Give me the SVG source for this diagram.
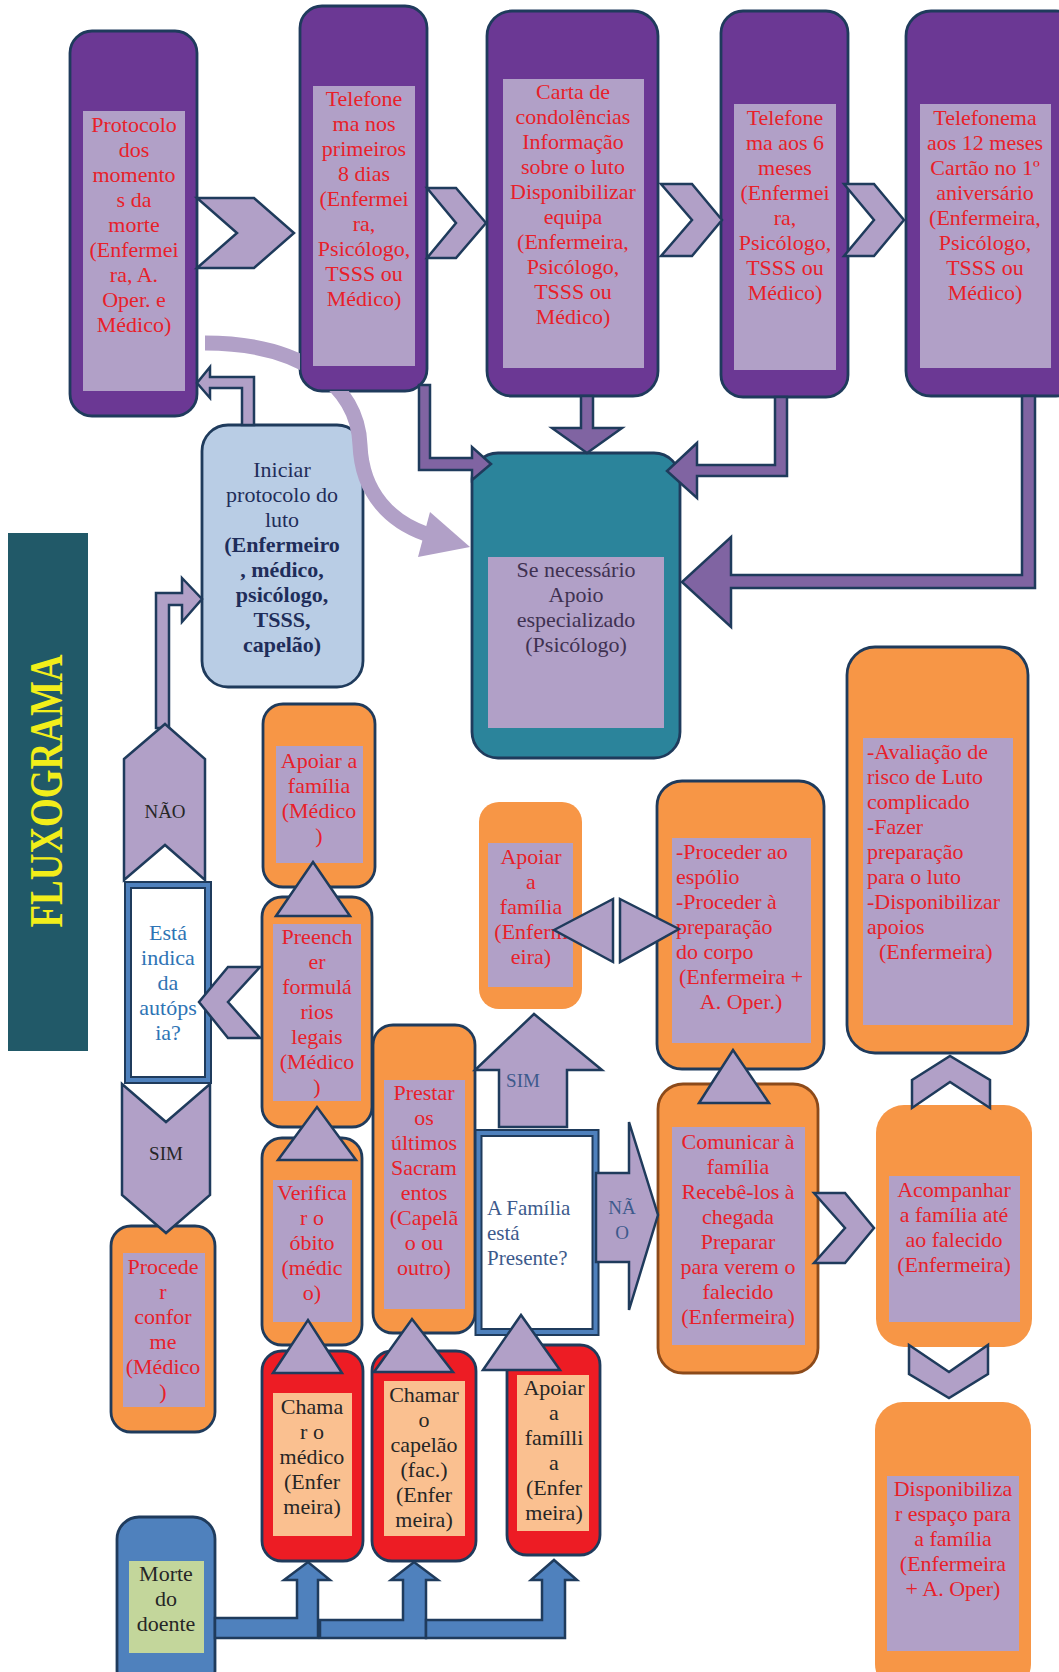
<svg xmlns="http://www.w3.org/2000/svg" width="1059" height="1672" viewBox="0 0 1059 1672">
<style>
.pn{fill:#6b3894;stroke:#1f3b5c;stroke-width:2.8}
.in{fill:#b1a0c7}
.ob{fill:#f79646;stroke:#1f3b5c;stroke-width:2.8}
.on{fill:#f79646}
.rb{fill:#ed1c24;stroke:#1f3b5c;stroke-width:2.8}
.pk{fill:#fac090}
.lav{fill:#b1a0c7;stroke:#1f3b5c;stroke-width:2.5;stroke-linejoin:miter}
.pa{fill:#8064a2;stroke:#1f3b5c;stroke-width:2.5}
.ba{fill:#4f81bd;stroke:#1f3b5c;stroke-width:2.5}
text{font-family:"Liberation Serif","Times New Roman",serif;font-size:22px;text-anchor:middle}
.r{fill:#e8202a}
.d{fill:#262626}
.l{text-anchor:start}
.lbl{font-size:19px}
.ttl{font-size:46px;font-weight:bold;fill:#f2ee1a}
.fam{font-size:21px;fill:#3d5a8c}
</style>
<defs>
<clipPath id="notNode2"><path clip-rule="evenodd" d="M0,0H1059V1672H0Z M300,6H427V391H300Z"/></clipPath>
</defs>

<g id="title">
<rect x="8" y="533" width="80" height="518" fill="#215968"/>
<text class="ttl" transform="translate(62,791) rotate(-90)" textLength="273" lengthAdjust="spacingAndGlyphs">FLUXOGRAMA</text>
</g>

<g id="node-protocolo">
<rect class="pn" x="70" y="31" width="127" height="385" rx="22"/>
<rect class="in" x="83" y="111" width="102" height="280"/>
<text class="r" x="134" y="132">Protocolo<tspan x="134" dy="25">dos</tspan><tspan x="134" dy="25">momento</tspan><tspan x="134" dy="25">s da</tspan><tspan x="134" dy="25">morte</tspan><tspan x="134" dy="25">(Enfermei</tspan><tspan x="134" dy="25">ra, A.</tspan><tspan x="134" dy="25">Oper. e</tspan><tspan x="134" dy="25">Médico)</tspan></text>
</g>

<g id="node-telefonema8">
<rect class="pn" x="300" y="6" width="127" height="385" rx="22"/>
<rect class="in" x="313" y="86" width="102" height="280"/>
<text class="r" x="364" y="106">Telefone<tspan x="364" dy="25">ma nos</tspan><tspan x="364" dy="25">primeiros</tspan><tspan x="364" dy="25">8 dias</tspan><tspan x="364" dy="25">(Enfermei</tspan><tspan x="364" dy="25">ra,</tspan><tspan x="364" dy="25">Psicólogo,</tspan><tspan x="364" dy="25">TSSS ou</tspan><tspan x="364" dy="25">Médico)</tspan></text>
</g>

<g id="node-carta">
<rect class="pn" x="487" y="11" width="171" height="385" rx="25"/>
<rect class="in" x="503" y="79" width="141" height="289"/>
<text class="r" x="573" y="99">Carta de<tspan x="573" dy="25">condolências</tspan><tspan x="573" dy="25">Informação</tspan><tspan x="573" dy="25">sobre o luto</tspan><tspan x="573" dy="25">Disponibilizar</tspan><tspan x="573" dy="25">equipa</tspan><tspan x="573" dy="25">(Enfermeira,</tspan><tspan x="573" dy="25">Psicólogo,</tspan><tspan x="573" dy="25">TSSS ou</tspan><tspan x="573" dy="25">Médico)</tspan></text>
</g>

<g id="node-telefonema6">
<rect class="pn" x="721" y="11" width="127" height="386" rx="22"/>
<rect class="in" x="734" y="104" width="102" height="266"/>
<text class="r" x="785" y="125">Telefone<tspan x="785" dy="25">ma aos 6</tspan><tspan x="785" dy="25">meses</tspan><tspan x="785" dy="25">(Enfermei</tspan><tspan x="785" dy="25">ra,</tspan><tspan x="785" dy="25">Psicólogo,</tspan><tspan x="785" dy="25">TSSS ou</tspan><tspan x="785" dy="25">Médico)</tspan></text>
</g>

<g id="node-telefonema12">
<rect class="pn" x="906" y="11" width="175" height="385" rx="25"/>
<rect class="in" x="920" y="104" width="131" height="264"/>
<text class="r" x="985" y="125">Telefonema<tspan x="985" dy="25">aos 12 meses</tspan><tspan x="985" dy="25">Cartão no 1º</tspan><tspan x="985" dy="25">aniversário</tspan><tspan x="985" dy="25">(Enfermeira,</tspan><tspan x="985" dy="25">Psicólogo,</tspan><tspan x="985" dy="25">TSSS ou</tspan><tspan x="985" dy="25">Médico)</tspan></text>
</g>

<g id="node-apoio-especializado">
<rect x="472" y="453" width="208" height="305" rx="26" fill="#2b849b" stroke="#1f3b5c" stroke-width="2.8"/>
<rect class="in" x="488" y="557" width="176" height="171"/>
<text fill="#3f3151" x="576" y="577">Se necessário<tspan x="576" dy="25">Apoio</tspan><tspan x="576" dy="25">especializado</tspan><tspan x="576" dy="25">(Psicólogo)</tspan></text>
</g>

<g id="node-iniciar">
<rect x="202" y="425" width="161" height="262" rx="26" fill="#b9cde5" stroke="#1f3b5c" stroke-width="2.8"/>
<text fill="#1f2d5a" x="282" y="477">Iniciar<tspan x="282" dy="25">protocolo do</tspan><tspan x="282" dy="25">luto</tspan><tspan x="282" dy="25" font-weight="bold">(Enfermeiro</tspan><tspan x="282" dy="25" font-weight="bold">, médico,</tspan><tspan x="282" dy="25" font-weight="bold">psicólogo,</tspan><tspan x="282" dy="25" font-weight="bold">TSSS,</tspan><tspan x="282" dy="25" font-weight="bold">capelão)</tspan></text>
</g>

<g id="node-autopsia">
<rect x="128" y="885" width="80" height="195" fill="#ffffff" stroke="#1f3b5c" stroke-width="8"/>
<rect x="128" y="885" width="80" height="195" fill="none" stroke="#4f81bd" stroke-width="4"/>
<text fill="#2e74b5" x="168" y="940">Está<tspan x="168" dy="25">indica</tspan><tspan x="168" dy="25">da</tspan><tspan x="168" dy="25">autóps</tspan><tspan x="168" dy="25">ia?</tspan></text>
</g>

<g id="node-proceder-conforme">
<rect class="ob" x="111" y="1226" width="104" height="206" rx="20"/>
<rect class="in" x="123" y="1253" width="82" height="154"/>
<text class="r" x="163" y="1274">Procede<tspan x="163" dy="25">r</tspan><tspan x="163" dy="25">confor</tspan><tspan x="163" dy="25">me</tspan><tspan x="163" dy="25">(Médico</tspan><tspan x="163" dy="25">)</tspan></text>
</g>

<g id="node-apoiar-medico">
<rect class="ob" x="263" y="704" width="112" height="183" rx="20"/>
<rect class="in" x="276" y="746" width="87" height="117"/>
<text class="r" x="319" y="768">Apoiar a<tspan x="319" dy="25">família</tspan><tspan x="319" dy="25">(Médico</tspan><tspan x="319" dy="25">)</tspan></text>
</g>

<g id="node-preencher">
<rect class="ob" x="262" y="897" width="110" height="230" rx="20"/>
<rect class="in" x="273" y="924" width="88" height="177"/>
<text class="r" x="317" y="944">Preench<tspan x="317" dy="25">er</tspan><tspan x="317" dy="25">formulá</tspan><tspan x="317" dy="25">rios</tspan><tspan x="317" dy="25">legais</tspan><tspan x="317" dy="25">(Médico</tspan><tspan x="317" dy="25">)</tspan></text>
</g>

<g id="node-verificar">
<rect class="ob" x="262" y="1138" width="100" height="207" rx="20"/>
<rect class="in" x="273" y="1180" width="79" height="142"/>
<text class="r" x="312" y="1200">Verifica<tspan x="312" dy="25">r o</tspan><tspan x="312" dy="25">óbito</tspan><tspan x="312" dy="25">(médic</tspan><tspan x="312" dy="25">o)</tspan></text>
</g>

<g id="node-prestar">
<rect class="ob" x="373" y="1025" width="102" height="308" rx="20"/>
<rect class="in" x="384" y="1080" width="81" height="229"/>
<text class="r" x="424" y="1100">Prestar<tspan x="424" dy="25">os</tspan><tspan x="424" dy="25">últimos</tspan><tspan x="424" dy="25">Sacram</tspan><tspan x="424" dy="25">entos</tspan><tspan x="424" dy="25">(Capelã</tspan><tspan x="424" dy="25">o ou</tspan><tspan x="424" dy="25">outro)</tspan></text>
</g>

<g id="node-apoiar-enfermeira">
<rect class="on" x="479" y="802" width="103" height="207" rx="20"/>
<rect class="in" x="488" y="843" width="85" height="144"/>
<text class="r" x="531" y="864">Apoiar<tspan x="531" dy="25">a</tspan><tspan x="531" dy="25">família</tspan><tspan x="531" dy="25">(Enferm</tspan><tspan x="531" dy="25">eira)</tspan></text>
</g>

<g id="node-familia-presente">
<rect x="478.5" y="1133" width="117" height="199" fill="#ffffff" stroke="#1f3b5c" stroke-width="8"/>
<rect x="478.5" y="1133" width="117" height="199" fill="none" stroke="#4f81bd" stroke-width="4"/>
<text class="l fam" x="487" y="1215">A Família<tspan x="487" dy="25">está</tspan><tspan x="487" dy="25">Presente?</tspan></text>
</g>

<g id="node-espolio">
<rect class="ob" x="657" y="781" width="167" height="288" rx="25"/>
<rect class="in" x="672" y="838" width="139" height="205"/>
<text class="r l" x="676" y="859">-Proceder ao<tspan x="676" dy="25">espólio</tspan><tspan x="676" dy="25">-Proceder à</tspan><tspan x="676" dy="25">preparação</tspan><tspan x="676" dy="25">do corpo</tspan></text>
<text class="r" x="741" y="984">(Enfermeira +<tspan x="741" dy="25">A. Oper.)</tspan></text>
</g>

<g id="node-comunicar">
<rect x="658" y="1084" width="160" height="289" rx="25" fill="#f79646" stroke="#8c4a1a" stroke-width="2.8"/>
<rect class="in" x="672" y="1127" width="133" height="218"/>
<text class="r" x="738" y="1149">Comunicar à<tspan x="738" dy="25">família</tspan><tspan x="738" dy="25">Recebê-los à</tspan><tspan x="738" dy="25">chegada</tspan><tspan x="738" dy="25">Preparar</tspan><tspan x="738" dy="25">para verem o</tspan><tspan x="738" dy="25">falecido</tspan><tspan x="738" dy="25">(Enfermeira)</tspan></text>
</g>

<g id="node-avaliacao">
<rect class="ob" x="847" y="647" width="181" height="406" rx="28"/>
<rect class="in" x="863" y="738" width="150" height="287"/>
<text class="r l" x="867" y="759">-Avaliação de<tspan x="867" dy="25">risco de Luto</tspan><tspan x="867" dy="25">complicado</tspan><tspan x="867" dy="25">-Fazer</tspan><tspan x="867" dy="25">preparação</tspan><tspan x="867" dy="25">para o luto</tspan><tspan x="867" dy="25">-Disponibilizar</tspan><tspan x="867" dy="25">apoios</tspan><tspan x="879" dy="25">(Enfermeira)</tspan></text>
</g>

<g id="node-acompanhar">
<rect class="on" x="876" y="1105" width="156" height="242" rx="28"/>
<rect class="in" x="889" y="1176" width="131" height="146"/>
<text class="r" x="954" y="1197">Acompanhar<tspan x="954" dy="25">a família até</tspan><tspan x="954" dy="25">ao falecido</tspan><tspan x="954" dy="25">(Enfermeira)</tspan></text>
</g>

<g id="node-espaco">
<rect class="on" x="875" y="1402" width="156" height="290" rx="28"/>
<rect class="in" x="887" y="1476" width="132" height="175"/>
<text class="r" x="953" y="1496">Disponibiliza<tspan x="953" dy="25">r espaço para</tspan><tspan x="953" dy="25">a família</tspan><tspan x="953" dy="25">(Enfermeira</tspan><tspan x="953" dy="25">+ A. Oper)</tspan></text>
</g>

<g id="node-chamar-medico">
<rect class="rb" x="262" y="1351" width="101" height="210" rx="20"/>
<rect class="pk" x="273" y="1393" width="79" height="143"/>
<text class="d" x="312" y="1414">Chama<tspan x="312" dy="25">r o</tspan><tspan x="312" dy="25">médico</tspan><tspan x="312" dy="25">(Enfer</tspan><tspan x="312" dy="25">meira)</tspan></text>
</g>

<g id="node-chamar-capelao">
<rect class="rb" x="372" y="1351" width="104" height="210" rx="20"/>
<rect class="pk" x="384" y="1381" width="81" height="155"/>
<text class="d" x="424" y="1402">Chamar<tspan x="424" dy="25">o</tspan><tspan x="424" dy="25">capelão</tspan><tspan x="424" dy="25">(fac.)</tspan><tspan x="424" dy="25">(Enfer</tspan><tspan x="424" dy="25">meira)</tspan></text>
</g>

<g id="node-apoiar-familia-red">
<rect class="rb" x="507" y="1345" width="93" height="210" rx="20"/>
<rect class="pk" x="517" y="1375" width="72" height="156"/>
<text class="d" x="554" y="1395">Apoiar<tspan x="554" dy="25">a</tspan><tspan x="554" dy="25">famílli</tspan><tspan x="554" dy="25">a</tspan><tspan x="554" dy="25">(Enfer</tspan><tspan x="554" dy="25">meira)</tspan></text>
</g>

<g id="node-morte">
<rect x="117" y="1517" width="98" height="175" rx="22" fill="#4f81bd" stroke="#1f3b5c" stroke-width="2.8"/>
<rect x="129" y="1561" width="75" height="92" fill="#c3d69b"/>
<text class="d" x="166" y="1581">Morte<tspan x="166" dy="25">do</tspan><tspan x="166" dy="25">doente</tspan></text>
</g>

<g id="connectors">
<path clip-path="url(#notNode2)" d="M205,343 C300,343 358,385 360,445 C362,495 392,522 426,534" fill="none" stroke="#b1a0c7" stroke-width="15"/>
<polygon points="430,512 470,547 418,557" fill="#b1a0c7"/>
<polygon class="lav" points="197,198 254,198 294,233 254,268 197,268 237,233"/>
<polygon class="lav" points="427,188 456,188 486,223 456,258 427,258 456,223"/>
<polygon class="lav" points="661,184 692,184 722,220 692,256 661,256 692,220"/>
<polygon class="lav" points="844,184 874,184 904,220 874,256 844,256 874,220"/>
<polygon class="lav" points="242,425 242,388 210,388 210,398 197,383 210,367 210,377 254,377 254,425"/>
<polygon class="pa" points="419,385 419,470 472,470 472,480 491,464 472,447 472,458 430,458 430,385"/>
<polygon class="pa" points="581,396 581,428 552,428 587,453 622,428 593,428 593,396"/>
<polygon class="pa" points="775,397 775,465 697,465 697,443 667,471 697,498 697,476 787,476 787,397"/>
<polygon class="pa" points="1022,396 1022,575 731,575 731,537 682,582 731,627 731,588 1035,588 1035,396"/>
<polygon class="lav" points="156,728 156,593 182,593 182,578 202,599 182,622 182,605 169,605 169,728"/>
<polygon class="lav" points="124,759 165,724 205,759 205,880 165,845 124,880"/>
<text class="d lbl" x="165" y="818">NÃO</text>
<polygon class="lav" points="122,1084 166,1122 210,1084 210,1195 166,1233 122,1195"/>
<text class="d lbl" x="166" y="1160">SIM</text>
<polygon class="lav" points="260,967 228,967 199,1002 228,1038 260,1038 228,1002"/>
<polygon class="lav" points="276,916 313,862 350,916"/>
<polygon class="lav" points="278,1160 317,1107 356,1160"/>
<polygon class="lav" points="273,1373 308,1320 342,1373"/>
<polygon class="lav" points="374,1372 412,1319 453,1372"/>
<polygon class="lav" points="483,1370 521,1315 560,1370"/>
<polygon class="lav" points="699,1103 733,1050 769,1103"/>
<polygon class="lav" points="499,1127 499,1070 475,1070 534,1014 602,1070 567,1070 567,1127"/>
<text class="lbl" fill="#3d5a8c" x="523" y="1087">SIM</text>
<polygon class="lav" points="596,1173 629,1173 629,1122 658,1215 629,1310 629,1262 596,1262"/>
<text class="lbl" fill="#3d5a8c" x="622" y="1214">NÃ</text>
<text class="lbl" fill="#3d5a8c" x="622" y="1239">O</text>
<polygon class="lav" points="554,930 613,899 613,962"/>
<polygon class="lav" points="620,899 679,929 620,962"/>
<polygon class="lav" points="814,1193 845,1193 874,1228 845,1263 814,1263 845,1228"/>
<polygon class="lav" points="912,1080 950,1056 990,1080 990,1108 950,1082 912,1108"/>
<polygon class="lav" points="909,1345 949,1372 988,1345 988,1374 949,1398 909,1374"/>
<polygon class="ba" points="215,1618 297,1618 297,1580 284,1580 308,1562 330,1580 318,1580 318,1638 215,1638"/>
<polygon class="ba" points="320,1620 403,1620 403,1580 391,1580 414,1562 438,1580 426,1580 426,1638 320,1638"/>
<polygon class="ba" points="426,1620 542,1620 542,1580 531,1580 554,1560 577,1580 565,1580 565,1638 426,1638"/>
</g>
</svg>
